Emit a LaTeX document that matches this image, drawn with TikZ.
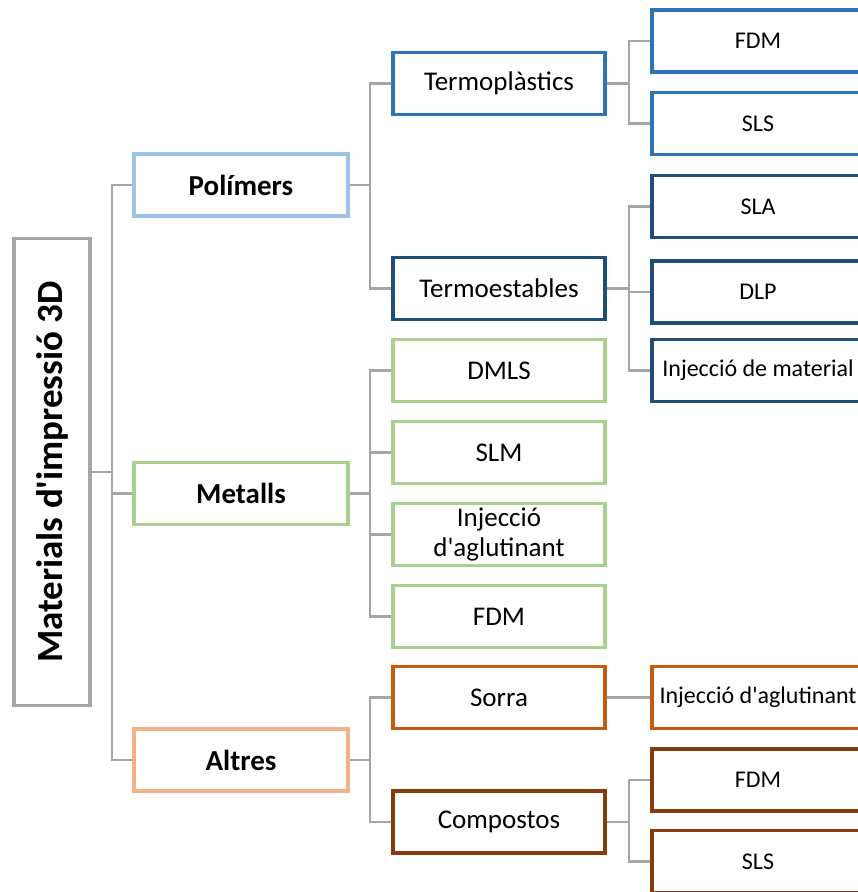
\documentclass[tikz,border=0pt]{standalone}
\usepackage{fontspec}
\setmainfont{Carlito}
\definecolor{linegray}{HTML}{A6A6A6}
\definecolor{polblue}{HTML}{9DC3E6}
\definecolor{tplblue}{HTML}{2E75B6}
\definecolor{tesblue}{HTML}{1F4E79}
\definecolor{metgreen}{HTML}{A9D18E}
\definecolor{altorange}{HTML}{F4B183}
\definecolor{sorraorange}{HTML}{C55A11}
\definecolor{compbrown}{HTML}{843C0C}

\begin{document}
\begin{tikzpicture}[x=1pt, y=-1pt,
    box/.style={draw, line width=3.5pt, minimum height=62pt, inner sep=2pt, align=center},
    lvlone/.style={box, minimum width=214pt, font=\fontsize{29}{33}\selectfont\bfseries},
    lvltwo/.style={box, minimum width=212pt, font=\fontsize{27}{30}\selectfont},
    lvlthree/.style={box, minimum width=212pt, font=\fontsize{24}{28}\selectfont},
    link/.style={draw=linegray, line width=2.3pt}]
  \clip (0,0) rectangle (858,892);
  \node [draw=linegray, line width=3.5pt, minimum width=76pt, minimum height=467pt, inner sep=0pt] (root) at (52,472) {\rotatebox{90}{\fontsize{37}{40}\selectfont\bfseries Materials d\textquotesingle impressió 3D}};

  \node [lvlone, draw=polblue] (pol) at (241,185) {Polímers};
  \node [lvlone, draw=metgreen] (met) at (241,493.5) {Metalls};
  \node [lvlone, draw=altorange] (alt) at (241,760) {Altres};

  \node [lvltwo, draw=tplblue] (tpl) at (499,83.5) {Termoplàstics};
  \node [lvltwo, draw=tesblue] (tes) at (499,288.5) {Termoestables};
  \node [lvltwo, draw=metgreen] (dmls) at (499,370.5) {DMLS};
  \node [lvltwo, draw=metgreen] (slm) at (499,452.5) {SLM};
  \node [lvltwo, draw=metgreen] (injm) at (499,534.5) {Injecció\\d\textquotesingle aglutinant};
  \node [lvltwo, draw=metgreen] (fdmm) at (499,616.5) {FDM};
  \node [lvltwo, draw=sorraorange] (sorra) at (499,697.5) {Sorra};
  \node [lvltwo, draw=compbrown] (comp) at (499,822) {Compostos};

  \node [lvlthree, draw=tplblue] (fdma) at (758,41) {FDM};
  \node [lvlthree, draw=tplblue] (slsa) at (758,123.5) {SLS};
  \node [lvlthree, draw=tesblue] (sla) at (758,206.5) {SLA};
  \node [lvlthree, draw=tesblue] (dlp) at (758,292) {DLP};
  \node [lvlthree, draw=tesblue] (injmat) at (758,370.5) {Injecció de material};
  \node [lvlthree, draw=sorraorange] (injagl) at (758,697.5) {Injecció d\textquotesingle aglutinant};
  \node [lvlthree, draw=compbrown] (fdmb) at (758,780) {FDM};
  \node [lvlthree, draw=compbrown] (slsb) at (758,861.5) {SLS};

  \coordinate (t0) at (112,472);
  \coordinate (t1) at (370,185);
  \coordinate (t2) at (370,493.5);
  \coordinate (t3) at (370,760);
  \coordinate (t4) at (629,83.5);
  \coordinate (t5) at (629,288.5);
  \coordinate (t6) at (629,822);

  \draw [link] (root.east) -- (t0);
  \draw [link] (pol.west) -| (t0) |- (alt.west);
  \draw [link] (met.west) -- (met.west -| t0);

  \draw [link] (pol.east) -- (t1);
  \draw [link] (tpl.west) -| (t1) |- (tes.west);
  \draw [link] (met.east) -- (t2);
  \draw [link] (dmls.west) -| (t2) |- (fdmm.west);
  \draw [link] (slm.west) -- (slm.west -| t2);
  \draw [link] (injm.west) -- (injm.west -| t2);
  \draw [link] (alt.east) -- (t3);
  \draw [link] (sorra.west) -| (t3) |- (comp.west);

  \draw [link] (tpl.east) -- (t4);
  \draw [link] (fdma.west) -| (t4) |- (slsa.west);
  \draw [link] (tes.east) -- (t5);
  \draw [link] (sla.west) -| (t5) |- (injmat.west);
  \draw [link] (dlp.west) -- (dlp.west -| t5);
  \draw [link] (sorra.east) -- (injagl.west);
  \draw [link] (comp.east) -- (t6);
  \draw [link] (fdmb.west) -| (t6) |- (slsb.west);
\end{tikzpicture}
\end{document}
